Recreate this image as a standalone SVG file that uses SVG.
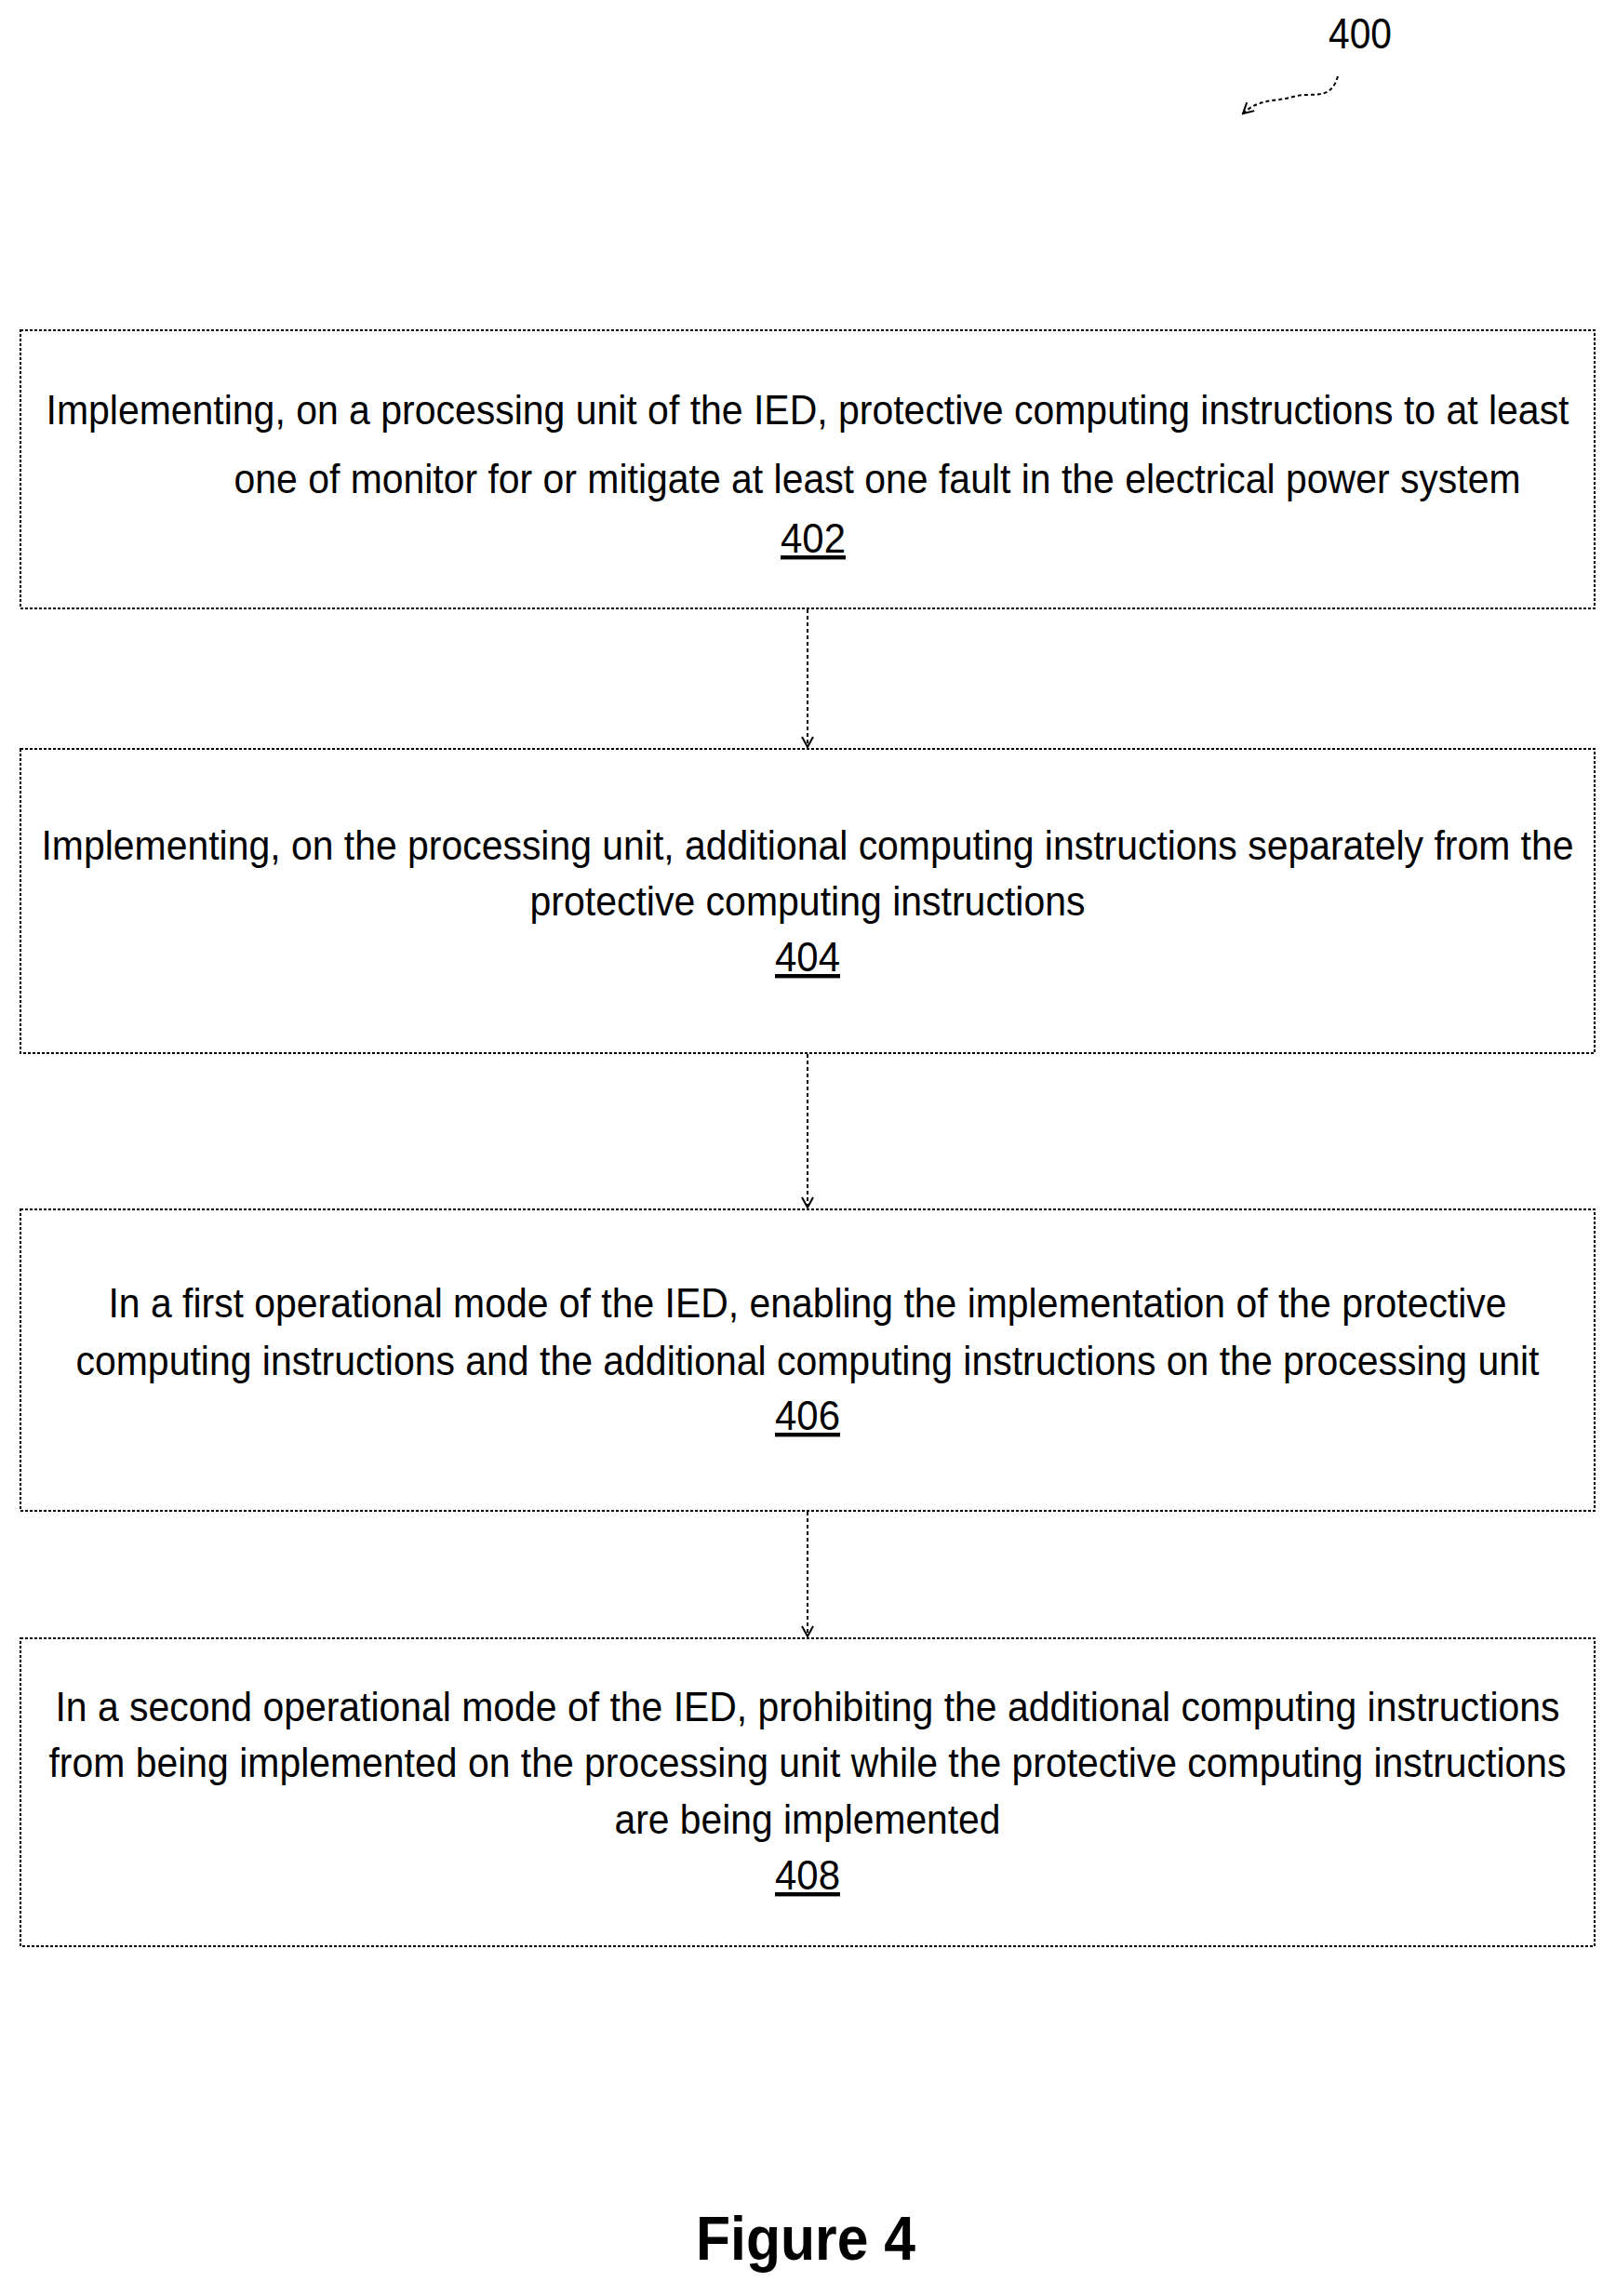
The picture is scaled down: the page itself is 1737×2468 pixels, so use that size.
<svg xmlns="http://www.w3.org/2000/svg" width="1737" height="2468" viewBox="0 0 1737 2468">
<style>
.box{fill:#fff;stroke:#000;stroke-width:2;stroke-dasharray:3 2}
.t{font-family:"Liberation Sans",Arial,sans-serif;font-size:44px;fill:#000;text-anchor:middle}
.n{font-family:"Liberation Sans",Arial,sans-serif;font-size:44px;fill:#000;text-anchor:middle;text-decoration:underline}
.c{stroke:#000;stroke-width:2;stroke-dasharray:4 3;fill:none}
</style>
<defs>
<marker id="ah" markerWidth="14" markerHeight="14" refX="12" refY="7" orient="auto" markerUnits="userSpaceOnUse">
<path d="M1,1 L12,7 L1,13" fill="none" stroke="#000" stroke-width="2"/>
</marker>
</defs>
<rect width="1737" height="2468" fill="#fff"/>
<g id="ref400">
<text x="1428" y="52" font-family="Liberation Sans,Arial,sans-serif" font-size="46" textLength="68" lengthAdjust="spacingAndGlyphs">400</text>
<path class="c" d="M1438,82 C1430,110 1410,98 1390,104 C1370,110 1355,105 1336,122" marker-end="url(#ah)"/>
</g>
<g id="connectors">
<line class="c" x1="868" y1="655" x2="868" y2="803" marker-end="url(#ah)"/>
<line class="c" x1="868" y1="1133" x2="868" y2="1298" marker-end="url(#ah)"/>
<line class="c" x1="868" y1="1625" x2="868" y2="1759" marker-end="url(#ah)"/>
</g>
<g id="n402">
<rect class="box" x="22" y="355" width="1692" height="299"/>
<text class="t" x="868" y="456" textLength="1637" lengthAdjust="spacingAndGlyphs">Implementing, on a processing unit of the IED, protective computing instructions to at least</text>
<text class="t" x="943" y="530" textLength="1383" lengthAdjust="spacingAndGlyphs">one of monitor for or mitigate at least one fault in the electrical power system</text>
<text class="n" x="874" y="594" textLength="70" lengthAdjust="spacingAndGlyphs">402</text>
</g>
<g id="n404">
<rect class="box" x="22" y="805" width="1692" height="327"/>
<text class="t" x="868" y="924" textLength="1647" lengthAdjust="spacingAndGlyphs">Implementing, on the processing unit, additional computing instructions separately from the</text>
<text class="t" x="868" y="984" textLength="597" lengthAdjust="spacingAndGlyphs">protective computing instructions</text>
<text class="n" x="868" y="1044" textLength="70" lengthAdjust="spacingAndGlyphs">404</text>
</g>
<g id="n406">
<rect class="box" x="22" y="1300" width="1692" height="324"/>
<text class="t" x="868" y="1416" textLength="1503" lengthAdjust="spacingAndGlyphs">In a first operational mode of the IED, enabling the implementation of the protective</text>
<text class="t" x="868" y="1478" textLength="1573" lengthAdjust="spacingAndGlyphs">computing instructions and the additional computing instructions on the processing unit</text>
<text class="n" x="868" y="1537" textLength="70" lengthAdjust="spacingAndGlyphs">406</text>
</g>
<g id="n408">
<rect class="box" x="22" y="1761" width="1692" height="331"/>
<text class="t" x="868" y="1850" textLength="1617" lengthAdjust="spacingAndGlyphs">In a second operational mode of the IED, prohibiting the additional computing instructions</text>
<text class="t" x="868" y="1910" textLength="1631" lengthAdjust="spacingAndGlyphs">from being implemented on the processing unit while the protective computing instructions</text>
<text class="t" x="868" y="1971" textLength="415" lengthAdjust="spacingAndGlyphs">are being implemented</text>
<text class="n" x="868" y="2031" textLength="70" lengthAdjust="spacingAndGlyphs">408</text>
</g>
<text x="866" y="2429" font-family="Liberation Sans,Arial,sans-serif" font-size="66" font-weight="bold" text-anchor="middle" textLength="236" lengthAdjust="spacingAndGlyphs">Figure 4</text>
</svg>
